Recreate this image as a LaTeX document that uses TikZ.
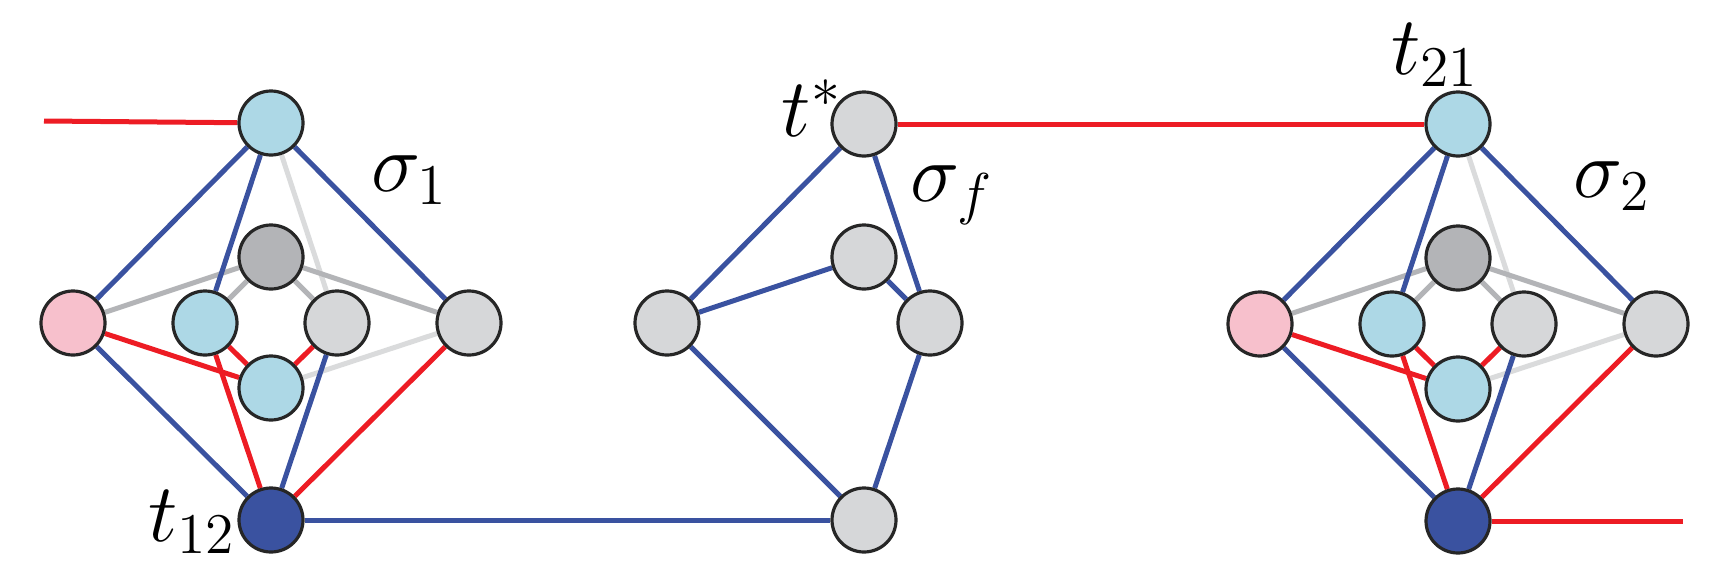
\documentclass[tikz,border=0pt]{standalone}
\usetikzlibrary{backgrounds}
\definecolor{lb}{RGB}{173,216,230}
\definecolor{pk}{RGB}{247,192,204}
\definecolor{lg}{RGB}{214,215,217}
\definecolor{dg}{RGB}{179,180,183}
\definecolor{db}{RGB}{58,82,160}
\definecolor{rd}{RGB}{237,28,36}
\definecolor{vl}{RGB}{218,219,220}
\tikzset{
  vtx/.style={circle,draw=black!85,line width=3.2pt,minimum size=64pt,inner sep=0pt},
  be/.style={draw=db,line width=5pt},
  re/.style={draw=rd,line width=5pt},
  ge/.style={draw=dg,line width=5pt},
  le/.style={draw=vl,line width=5pt},
  lab/.style={inner sep=0pt}
}
\begin{document}
\begin{tikzpicture}[x=1pt,y=-1pt]
\useasboundingbox (0,0) rectangle (1732,581);
\foreach \pre/\px/\py in {a/271/123,b/1458/124}{
\begin{scope}[shift={(\px,\py)},name prefix=\pre]
  \node[vtx,fill=lb] (T) at (0,0) {};
  \node[vtx,fill=pk] (L) at (-198,200) {};
  \node[vtx,fill=dg] (IT) at (0,134) {};
  \node[vtx,fill=lb] (IL) at (-66,200) {};
  \node[vtx,fill=lg] (IR) at (66,200) {};
  \node[vtx,fill=lb] (IB) at (0,265) {};
  \node[vtx,fill=lg] (R) at (198,200) {};
  \node[vtx,fill=db] (B) at (0,397) {};
  \begin{scope}[on background layer]
    \path[le] (T) -- (IR);
    \path[le] (IB) -- (R);
    \path[ge] (L) -- (IT);
    \path[ge] (IT) -- (IL);
    \path[ge] (IT) -- (IR);
    \path[ge] (IT) -- (R);
    \path[be] (T) -- (L);
    \path[be] (T) -- (R);
    \path[be] (T) -- (IL);
    \path[be] (L) -- (B);
    \path[be] (IR) -- (B);
    \path[re] (L) -- (IB);
    \path[re] (IL) -- (IB);
    \path[re] (IL) -- (B);
    \path[re] (IR) -- (IB);
    \path[re] (R) -- (B);
  \end{scope}
\end{scope}
}
\node[vtx,fill=lg] (m1) at (864,124) {};
\node[vtx,fill=lg] (m2) at (864,257) {};
\node[vtx,fill=lg] (m3) at (667,323) {};
\node[vtx,fill=lg] (m4) at (930,323) {};
\node[vtx,fill=lg] (m5) at (864,520) {};
\coordinate (lend) at (44,121);
\coordinate (rend) at (1683,521);
\begin{scope}[on background layer]
  \path[be] (m1) -- (m3);
  \path[be] (m1) -- (m4);
  \path[be] (m3) -- (m2);
  \path[be] (m2) -- (m4);
  \path[be] (m3) -- (m5);
  \path[be] (m4) -- (m5);
  \path[be] (aB) -- (m5);
  \path[re] (m1) -- (bT);
  \path[re] (lend) -- (aT);
  \path[re] (bB) -- (rend);
\end{scope}
\node[lab] (s1) at (410,180) {\scalebox{4}{\fontsize{20}{20}\selectfont$\sigma_1$}};
\node[lab] (s2) at (1612,186) {\scalebox{4}{\fontsize{20}{20}\selectfont$\sigma_2$}};
\node[lab] (sf) at (952,195) {\scalebox{4}{\fontsize{20}{20}\selectfont$\sigma_f$}};
\node[lab,anchor=east] (t12) at (236,522) {\scalebox{4}{\fontsize{20}{20}\selectfont$t_{12}$}};
\node[lab] (t21) at (1435,55) {\scalebox{4}{\fontsize{20}{20}\selectfont$t_{21}$}};
\node[lab] (ts) at (812,108) {\scalebox{4}{\fontsize{20}{20}\selectfont$t^*$}};
\end{tikzpicture}
\end{document}
